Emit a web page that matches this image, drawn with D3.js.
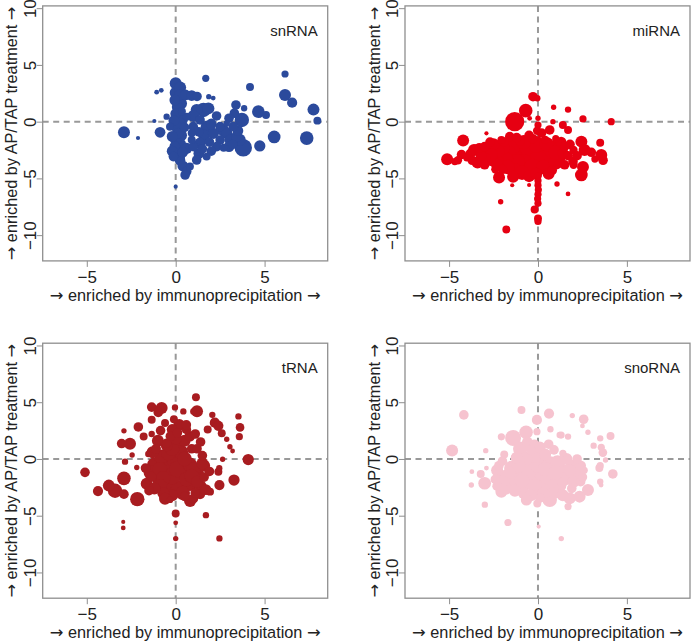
<!DOCTYPE html>
<html><head><meta charset="utf-8">
<script src="https://cdn.jsdelivr.net/npm/d3@7"></script>
<style>body{margin:0;background:#fff}svg{display:block;font-family:"Liberation Sans",Arial,Helvetica,sans-serif}</style>
</head><body><svg id="c" width="691" height="643"></svg>
<script>
const categories = ["snRNA", "miRNA", "tRNA", "snoRNA"];
const colors = ["#2b4a9c", "#e60012", "#a81c20", "#f6c3cf"];
const xTicks = [-5, 0, 5];
const yTicks = [-10, -5, 0, 5, 10];
const xTitle = "enriched by immunoprecipitation";
const yTitle = "enriched by AP/TAP treatment";
const arrow = "\u2192";

// [x, y, abundance]
const snRNA = [[0,3.38,25],[1.69,3.82,9],[-1.07,2.6,4],[-0.81,2.76,4],[-1.2,0.06,3],[-2.91,-0.94,25],[-2.12,-1.44,3],[-0.88,-0.94,20],[0,-5.73,3],[4.18,3.05,11],[6.15,4.2,9],[6.15,2.35,25],[6.55,1.67,18],[7.75,1.06,25],[7.97,0.09,11],[7.37,-1.45,32],[5.54,-1.35,28],[4.73,-2.14,22],[4.65,0.88,28],[5.08,0.59,11],[3.72,0.15,36],[3.8,-2.3,53],[3.3,0.74,16],[3.39,1.47,16],[3.85,1.18,7],[1.86,2.2,5],[2.11,2.08,4],
[0,2.55,25],[0.22,2.35,20],[0.55,2.35,20],[0.9,2.3,20],[1.2,2.22,16],
[-0.05,1.9,20],[0.1,1.3,22],[0,0.7,20],[-0.1,0.1,20],[0.05,-0.5,22],[0.15,-1.0,20],[0,-1.6,22],[-0.05,-2.2,20],[0.1,-2.8,20],
[-0.13,-3.08,16],[0.24,-3.4,20],[0.4,-3.9,20],[0.62,-4.4,16],[0.53,-4.7,16],[0.8,-3.96,11],[1.18,-3.38,16],[1.37,-1.9,22],[1.74,-3.08,11],[0.9,-1.6,11],[1.56,1.03,36],[1.84,1.17,25],[1.18,1.03,25],[1.37,0.15,16],[0.99,-0.44,16],[1.74,-0.44,25],[2.12,-1.03,22],[2.5,-1.62,16],[2.87,-1.03,22],[3.06,-1.62,22],[2.5,-0.44,16],[2.31,-2.2,16],[3.24,-0.44,16],[3.43,-1.32,22],[2.87,-0.15,7],[0.62,0.44,11],[0.35,0.9,11],[-0.51,0.44,7],[-0.32,-0.44,11],[0.34,-2.35,25],[0.62,-2.35,22],[0.9,-1.0,11],
[1.5,-2.4,16],[1.9,-1.8,16],[3.5,-0.8,20],[3.2,-2.0,16],[2.7,-2.3,11],[1.3,-0.9,16],[0.5,-0.5,16],
[0.25,3.0,25],[0.3,1.6,25],[0.35,0.2,25],[0.3,-1.2,25],[0.25,-2.0,25],[-0.2,-1.3,20],[-0.2,-2.6,20],[0.2,-3.0,25],[0.4,-2.7,20],
[1.0,0.5,25],[1.6,-1.2,25],[2.0,-0.2,20],[2.3,0.5,16],[2.7,-0.8,25],[3.0,-2.2,20],[2.0,-2.6,16],[1.3,-2.8,20],[1.0,-2.2,16],[3.6,-1.6,25],[3.0,0.3,16]];

const miRNA = [[-0.28,2.2,16],[-0.04,2.06,7],[-0.69,0.97,32],[-1.31,0,64],[-0.47,0.29,4],[0.88,1.27,5],[1.69,1.06,7],[2.53,0.24,9],[4.12,0,9],[0.84,0,5],[1.4,-0.29,11],[1.69,-0.73,11],[0.66,-0.73,16],[-2.9,-1.03,3],[-4.21,-1.67,25],[-5.11,-3.32,25],[-4.68,-3.52,9],[-3.46,-2.49,22],[-2.99,-3.22,22],[-2.26,-3.52,25],[-2.06,-1.61,11],[-1.59,-1.32,16],[-2.19,-4.93,25],[-1.4,-4.85,25],[-1.45,-5.6,3],[-0.5,-5.58,3],[-2.1,-7.06,5],[-1.78,-9.5,11],[1.07,-5.49,5],[1.69,-6.37,4],[2.44,-1.76,25],[3.5,-1.85,11],[2.62,-2.49,25],[3.56,-2.93,25],[3.66,-3.4,16],[2.44,-4.7,28],[2.53,-3.99,25],[1.97,-3.52,16],[1.4,-2.79,22],[2.2,-3.0,16],[3.0,-2.7,16],[3.2,-3.3,9],
[-0.19,-7.74,11],[0,-8.53,11],[0,-8.8,9],[0,-4.8,9],[0,-5.2,9],[0,-5.6,9],[0.02,-6.0,9],[0,-6.4,9],[-0.02,-6.8,9],[0,-7.2,9],[0,0.3,5],[0,-0.3,9],[-0.05,-0.8,12],
[-1.5,-2.3,49],[-1.0,-2.8,64],[-0.5,-2.3,64],[-0.2,-3.0,81],[0.3,-2.6,64],[0.6,-3.2,64],[-0.8,-3.6,49],[-1.3,-4.3,36],[-0.3,-4.0,49],[0.3,-4.0,36],[0.9,-2.3,36],[1.2,-3.0,36],[-1.8,-3.3,36],[-2.2,-2.6,25],[-2.6,-3.4,25],[-2.8,-2.5,25],[-3.2,-3.0,20],[-3.6,-2.5,25],[-1.9,-1.8,16],[-1.0,-1.7,16],[-0.3,-1.5,16],[0.4,-1.6,12],[1.0,-1.5,9],[1.5,-2.2,16],[1.7,-3.0,16],[2.0,-2.5,12],[1.5,-3.8,16],[0.8,-4.3,16],[-0.5,-4.8,25],[-2.0,-4.2,16],[-3.0,-3.8,16],[-2.4,-4.2,12],[-3.8,-2.8,16],[-3.3,-2.3,16],[-4.0,-3.2,9],
[-3.4,-3.6,25],[-2.5,-2.0,25],[-2.3,-3.8,25],[-1.7,-2.8,49],[-1.2,-3.6,49],[-0.8,-1.8,36],[-0.1,-2.0,49],[0.5,-2.0,36],[1.0,-3.6,36],[0.6,-4.6,25],[-0.1,-4.6,25],[-0.9,-4.5,36],[-1.7,-4.0,36],[-3.7,-3.4,16],[-4.3,-2.9,16],[-4.5,-3.4,12],[1.8,-2.0,16],[1.3,-1.8,20],[2.0,-3.8,12],[-2.7,-1.8,16],[0.2,-1.0,16],[-0.5,-1.2,16],[-1.2,-1.4,16],
[-2.0,-2.3,36],[-2.6,-2.9,25],[0.0,-3.4,64],[1.0,-2.7,36],[-3.0,-2.2,16]];

const tRNA = [[-5.1,-1.18,16],[-4.37,-2.83,18],[-3.76,-2.35,25],[-3.41,-2.8,36],[-2.91,-1.71,32],[-2.91,-3.1,16],[-2.95,-5.55,3],[-2.95,-6.08,4],[-3.04,1.36,16],[-2.57,1.33,25],[-2.91,2.48,5],[-2.45,0.35,5],[-2.85,-0.24,7],[-2.19,-0.75,5],[-2.16,-3.54,36],[-1.63,-2.18,25],[-1.35,-1.56,16],[-1.35,4.57,16],[-0.79,4.48,25],[-0.98,4.1,16],[-2.1,2.82,16],[-1.8,1.98,11],[-1.35,3.45,11],[-0.85,2.5,16],[-0.6,3.16,11],[-0.04,4.54,7],[0.43,4.19,7],[0.99,4.19,7],[1.14,5.43,11],[1.2,4.2,25],[2.06,3.89,7],[2.2,3.2,18],[2.4,2.92,18],[2.59,2.26,11],[3.53,3.75,7],[3.62,2.78,13],[3.58,1.96,9],[4.08,-0.05,22],[3.2,0.7,4],[2.87,1.74,5],[3.05,1.08,5],[2.64,-0.03,5],[2.45,-0.82,7],[2.4,-1.12,11],[2.46,-2.3,18],[3.28,-1.86,22],[1.93,-2.88,11],[1.7,-4.95,7],[2.46,-7.0,7],[0,-4.81,11],[0,-5.63,4],[0,-7.02,5],[0.81,-3.7,25],[1.0,-3.5,16],[1.37,-3.1,18],[-1.54,0.44,7],[-1.35,2.2,7],[-0.51,1.38,16],[-0.32,-3.61,7],
[-1.2,-0.5,36],[-0.8,0.2,36],[-0.4,-0.8,49],[0,-0.2,49],[0.4,-1.2,49],[0.8,-0.5,36],[1.2,-1.4,36],[0,1.2,36],[0.5,1.6,25],[-0.5,1.2,25],[0.3,0.6,36],[-1.0,-1.6,36],[-0.5,-2.2,49],[0.2,-2.6,49],[0.8,-2.2,36],[1.4,-2.4,25],[1.6,-0.6,25],[1.5,0.3,16],[0.9,0.9,16],[-1.3,0.6,25],[-0.2,-3.2,25],[-0.7,-3.0,25],[0.5,-3.3,16],[1.1,-3.0,16],[1.6,-1.6,16],[1.9,-1.1,16],[-0.3,2.0,16],[0.1,2.3,16],[0.6,2.6,16],[1.1,2.2,16],[0.2,3.0,25],[0.6,3.0,16],[-0.1,3.5,11],[1.4,1.5,16],[1.8,2.6,11],[-1.5,-2.8,16],[-1.7,-0.8,16],[-1.1,0.9,16],
[-1.4,-1.2,36],[-0.9,-0.9,36],[-0.2,-1.5,49],[0.6,-1.8,36],[1.0,-0.9,36],[0.5,0.0,36],[-0.4,0.5,36],[-1.0,1.6,25],[0.0,1.8,25],[-0.6,-3.5,25],[0.4,-3.0,36],[1.5,-0.4,25],[1.7,-2.7,20],[-1.2,-2.6,25],[-0.2,2.6,20],[0.8,2.0,20],[1.2,0.9,16],
[-0.7,-1.7,36],[0.1,-0.9,49],[0.9,-1.5,36],[-0.2,0.9,36],[-0.9,-2.4,36],[1.2,-2.0,25]];

const snoRNA = [[-4.83,0.74,25],[-4.17,3.88,16],[-2.94,0.73,5],[-3.72,-1.12,4],[-3.75,-2.3,5],[-3.22,-1.33,11],[-3.0,-2.14,28],[-2.99,-4.03,7],[-1.69,-5.6,9],[-2.06,-2.9,25],[-2.06,1.95,9],[-1.4,1.85,44],[-0.67,2.35,32],[-0.93,4.32,11],[-0.06,3.44,18],[0.62,4.0,18],[-0.06,2.4,9],[0.7,2.62,7],[1.22,2.11,7],[1.69,1.97,7],[1.3,2.1,9],[1.93,3.82,5],[2.57,3.5,16],[2.5,2.91,4],[2.81,2.35,5],[3.5,1.82,7],[4.08,2.03,11],[3.13,1.17,7],[3.56,1.03,9],[3.65,0.56,13],[3.8,-0.09,5],[4.21,-1.32,16],[3.5,-0.59,9],[3.45,-0.8,11],[3.5,-2.0,7],[3.55,-2.3,4],[0.04,-5.96,3],[1.31,-7.02,5],[-0.04,-3.92,11],[0.66,-3.61,36],[1.78,-3.46,25],[1.69,-4.2,9],[2.34,-3.32,25],[2.81,-2.73,25],[-0.65,-3.61,22],[0.1,-3.46,16],[-2.9,-0.8,4],[-0.2,1.3,16],[0.1,1.0,25],[0.9,0.8,16],[1.4,0.5,9],[-1.0,0.9,36],
[-2.0,-1.5,25],[-1.5,-0.8,36],[-1.6,-2.0,36],[-1.0,-1.3,49],[-0.9,-2.4,36],[-0.4,-0.6,49],[-0.3,-1.8,49],[0.2,-1.1,49],[0.3,-2.4,36],[0.7,-0.4,36],[0.8,-1.6,49],[1.3,-1.0,36],[1.2,-2.3,36],[1.7,-1.6,36],[1.9,-0.6,25],[2.2,-1.3,25],[2.4,-2.0,16],[2.2,0.0,16],[1.6,0.0,25],[-1.2,0.1,25],[-2.2,-0.6,16],[-2.3,-2.4,16],[-0.1,0.3,36],[-0.8,-3.0,25],[0.9,-3.0,25],[-0.4,0.8,16],[1.9,-2.6,16],[2.6,-1.0,9],[-1.9,0.4,11],
[-2.3,-1.0,25],[-1.8,-2.6,25],[-1.3,-1.9,36],[-0.6,-1.2,49],[-0.7,0.0,36],[0.0,-0.5,49],[0.5,-1.6,36],[0.9,-2.4,36],[1.4,-1.8,36],[2.0,-2.0,25],[2.4,-0.6,20],[1.1,-0.3,36],[0.4,0.4,25],[-1.3,-2.8,25],[0.0,-2.8,36],[-0.4,-3.2,25],[1.4,-3.2,25],[-2.0,-0.2,16],[0.6,1.3,16],[-0.6,1.5,20],
[-1.9,-1.9,25],[-1.6,-1.2,25],[-0.2,-2.4,36],[0.4,-0.9,36],[1.0,-1.2,36],[1.8,-1.0,25],[-1.1,-0.6,36],[2.5,-1.6,16],[-2.4,-1.8,16],[0.3,-3.0,25],[-0.9,-1.9,36]];

const datasets = [snRNA, miRNA, tRNA, snoRNA];

const svg = d3.select("#c");
const W = 285, H = 255;
const lefts = [42.7, 405, 42.7, 405];
const tops = [5.9, 5.9, 343.2, 343.2];
const x = d3.scaleLinear().domain([-7.48, 8.55]).range([0, W]);
const y = d3.scaleLinear().domain([-12.27, 10.2]).range([H, 0]);
const r = d3.scaleSqrt().domain([0, 64]).range([0, 9.6]);
const grey = "#8f8f8f";
const txt = "#222";
const FS = 16.3;

function arrowTitle(sel, label) {
  sel.append("tspan").attr("font-family", "DejaVu Sans").text(arrow);
  sel.append("tspan").text(" " + label + " ");
  sel.append("tspan").attr("font-family", "DejaVu Sans").text(arrow);
}

categories.forEach((cat, i) => {
  const g = svg.append("g").attr("transform", `translate(${lefts[i]},${tops[i]})`);
  g.append("line").attr("x1", x(0)).attr("x2", x(0)).attr("y1", 0).attr("y2", H)
    .attr("stroke", "#999").attr("stroke-width", 2).attr("stroke-dasharray", "6,4.5");
  g.append("line").attr("x1", 0).attr("x2", W).attr("y1", y(0)).attr("y2", y(0))
    .attr("stroke", "#999").attr("stroke-width", 2).attr("stroke-dasharray", "6,4.5");
  const pts = datasets[i].slice().sort((a, b) => b[2] - a[2]);
  g.append("g").selectAll("circle").data(pts).join("circle")
    .attr("cx", d => x(d[0])).attr("cy", d => y(d[1])).attr("r", d => r(d[2]))
    .attr("fill", colors[i]);
  g.append("rect").attr("x", 0).attr("y", 0).attr("width", W).attr("height", H)
    .attr("fill", "none").attr("stroke", grey).attr("stroke-width", 1.3);
  const xa = g.append("g").attr("transform", `translate(0,${H})`)
    .call(d3.axisBottom(x).tickValues(xTicks).tickSize(6).tickFormat(d3.format("d")));
  xa.select(".domain").remove();
  xa.selectAll("line").attr("stroke", grey);
  xa.selectAll("text").attr("font-size", 17).attr("fill", txt).attr("font-family", null)
    .attr("y", 16).attr("dy", "0.35em");
  const ya = g.append("g").call(d3.axisLeft(y).tickValues(yTicks).tickSize(6).tickFormat(d3.format("d")));
  ya.select(".domain").remove();
  ya.selectAll("line").attr("stroke", grey);
  ya.selectAll("text").attr("font-size", 17).attr("fill", txt).attr("font-family", null)
    .attr("x", null).attr("dy", "0.35em").attr("text-anchor", "middle")
    .attr("transform", "translate(-12.7,0) rotate(-90)");
  g.append("text").attr("x", W / 2).attr("y", H + 34).attr("dy", "0.35em")
    .attr("text-anchor", "middle").attr("font-size", FS).attr("fill", txt)
    .call(arrowTitle, xTitle);
  g.append("text").attr("transform", `translate(-31,${H / 2}) rotate(-90)`).attr("dy", "0.35em")
    .attr("text-anchor", "middle").attr("font-size", FS).attr("fill", txt)
    .call(arrowTitle, yTitle);
  g.append("text").attr("x", W - 10).attr("y", 30).attr("text-anchor", "end")
    .attr("font-size", 15).attr("fill", txt).text(cat);
});
</script></body></html>
